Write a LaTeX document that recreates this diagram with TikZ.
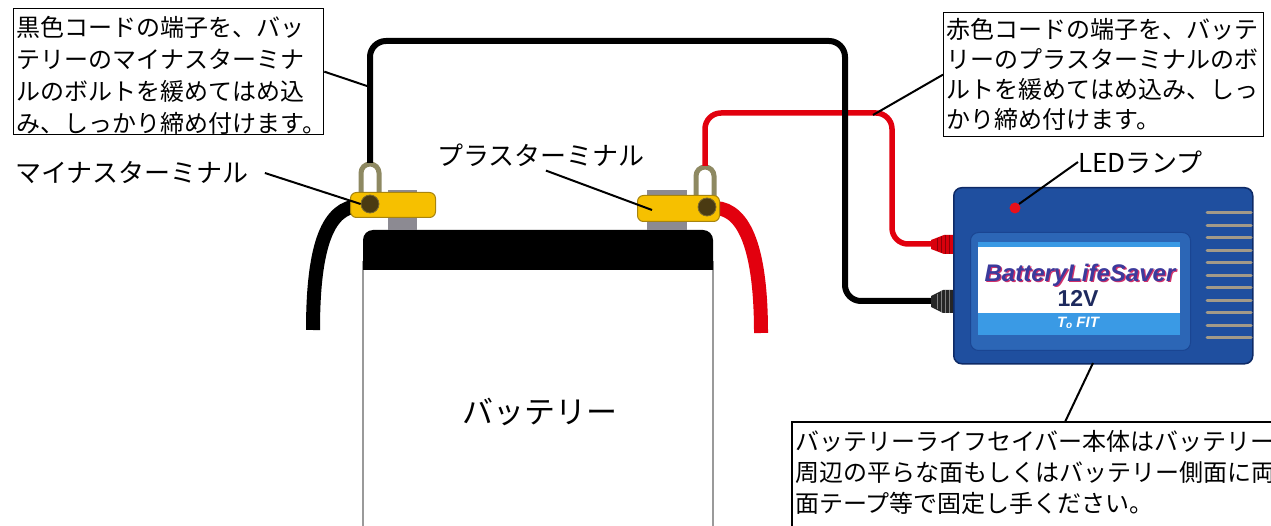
\documentclass[tikz,border=0pt]{standalone}
\usepackage{fontspec}
\setmainfont{Noto Sans CJK JP}
\newfontfamily\logofont{Liberation Sans}
\usetikzlibrary{calc}

\definecolor{wirered}{HTML}{E2000E}
\definecolor{plugred}{HTML}{D8000C}
\definecolor{ribred}{HTML}{8E0008}
\definecolor{postgray}{HTML}{8C8A92}
\definecolor{clampyellow}{HTML}{F6C000}
\definecolor{clampedge}{HTML}{A8840E}
\definecolor{boltbrown}{HTML}{4A3A12}
\definecolor{boltedge}{HTML}{7A6A30}
\definecolor{lugolive}{HTML}{8E8962}
\definecolor{bodyblue}{HTML}{1F4F9F}
\definecolor{bodyedge}{HTML}{0E2A66}
\definecolor{panelblue}{HTML}{2C66B6}
\definecolor{paneledge}{HTML}{1A4592}
\definecolor{bandblue}{HTML}{3A9AE5}
\definecolor{brandblue}{HTML}{3B3A9C}
\definecolor{brandshadow}{HTML}{D0306A}
\definecolor{voltnavy}{HTML}{1E2A5E}
\definecolor{ventgray}{HTML}{A39A88}
\definecolor{ledred}{HTML}{E8101A}
\definecolor{sidegray}{HTML}{9A9A9A}

\tikzset{
  notebox/.style={draw=black, line width=1.3pt, fill=white, align=left,
    inner xsep=3pt, inner ysep=0pt},
  plainlbl/.style={inner sep=0pt, font=\fontsize{26}{26}\selectfont},
  leader/.style={draw=black, line width=2pt},
  thinwire/.style={line width=#1, rounded corners=16pt},
  clamp/.style={draw=clampedge, fill=clampyellow, line width=1pt,
    rounded corners=6pt, inner sep=0pt},
  bolt/.style={circle, draw=boltedge, fill=boltbrown, line width=0.8pt,
    minimum size=18pt, inner sep=0pt},
  lug/.style={draw=lugolive, line width=5pt},
  vent/.style={draw=ventgray, line width=3pt, line cap=round},
}

\begin{document}
\begin{tikzpicture}[x=1pt,y=-1pt]
\useasboundingbox (0,0) rectangle (1271,526);
\clip (0,0) rectangle (1271,526);

% heavy battery leads
\draw[line width=14pt, black] (358,206) .. controls (330,208) and (313,240) .. (313,330);
\draw[line width=14pt, wirered] (716,208) .. controls (745,210) and (761,250) .. (761,333);

% battery case
\draw[draw=sidegray, fill=white, line width=1.2pt] (363,262) rectangle (713,560);
\fill[black, rounded corners=10pt] (363,270) -- (363,230) -- (713,230) -- (713,270);
\node[font=\fontsize{31}{31}\selectfont, inner sep=0pt] (battlbl) at (540,412) {バッテリー};

% terminal posts
\fill[postgray] (388,190) rectangle (417,230);
\fill[postgray] (647,190) rectangle (687,230);

% ring lugs
\draw[lug] (361,194) -- (361,173) arc[start angle=180, end angle=0, radius=9pt] -- (379,194);
\draw[lug] (696,197) -- (696,176) arc[start angle=180, end angle=0, radius=9pt] -- (714,197);
\coordinate (ltop) at (370,163);
\coordinate (rtop) at (705,166);

% terminal clamps and bolts
\node[clamp, minimum width=85pt, minimum height=25pt, anchor=north west] (lclamp) at (350,192) {};
\node[clamp, minimum width=82pt, minimum height=26pt, anchor=north west] (rclamp) at (637,195) {};
\node[bolt] (lbolt) at (370,204) {};
\node[bolt] (rbolt) at (707,207) {};
\coordinate (plustip) at (652,210);

% plug ends on the saver
\coordinate (redin) at (934,244);
\coordinate (blackin) at (934,301);

% thin leads to the saver
\draw[thinwire=5.5pt, wirered] (rtop) |- (892,113) |- (redin);
\draw[thinwire=6pt, black] (ltop) |- (845,41) |- (blackin);

% plugs
\fill[plugred] (931,240) -- (944,235) -- (955,235) -- (955,254) -- (944,254) -- (931,249) -- cycle;
\draw[ribred, line width=1pt] (937,238) -- (937,251) (941,236) -- (941,253) (945,235) -- (945,254) (949,235) -- (949,254);
\fill[black!85] (931,296) -- (943,290) -- (955,290) -- (955,313) -- (943,313) -- (931,307) -- cycle;
\draw[gray, line width=1pt] (937,294) -- (937,309) (941,291) -- (941,312) (945,290) -- (945,313) (949,290) -- (949,313);

% saver body
\node[draw=bodyedge, fill=bodyblue, line width=1.5pt, rounded corners=8pt,
      minimum width=299pt, minimum height=176pt, inner sep=0pt, anchor=north west] (saver) at (953,187) {};
\node[draw=paneledge, fill=panelblue, line width=1pt, rounded corners=8pt,
      minimum width=220pt, minimum height=118pt, inner sep=0pt, anchor=north west] (panel) at (970,232) {};
\fill[bandblue] (978,242) rectangle (1180,335);
\fill[white] (978,247) rectangle (1180,313);
\node[font=\logofont\bfseries\itshape\fontsize{24}{24}\selectfont, text=brandshadow, inner sep=0pt] at (1081.3,276.2) {BatteryLifeSaver};
\node[font=\logofont\bfseries\itshape\fontsize{24}{24}\selectfont, text=brandblue, inner sep=0pt] (brand) at (1080,275) {BatteryLifeSaver};
\node[font=\logofont\bfseries\fontsize{23}{23}\selectfont, text=voltnavy, inner sep=0pt] (volt) at (1078,298) {12V};
\node[font=\logofont\bfseries\itshape\fontsize{15}{15}\selectfont, text=white, inner sep=0pt] (maker) at (1078,323) {T\raisebox{-1pt}{\fontsize{10}{10}\selectfont o} FIT};
\foreach \i in {0,...,10}
  \draw[vent] (1207,{213+12.5*\i}) -- (1251,{213+12.5*\i});
\node[circle, fill=ledred, minimum size=11pt, inner sep=0pt] (lamp) at (1015,208) {};

% callout boxes
\node[notebox, font=\fontsize{24}{32}\selectfont, minimum width=310pt, minimum height=126pt,
      text width=304pt, anchor=north west] (lbox) at (13,8)
  {\rule{0pt}{27pt}黒色コードの端子を、バッ\\テリーのマイナスターミナ\\ルのボルトを緩めてはめ込\\み、しっかり締め付けます。};
\node[notebox, font=\fontsize{24}{30}\selectfont, minimum width=320pt, minimum height=124pt,
      text width=314pt, anchor=north west] (rbox) at (943,12)
  {赤色コードの端子を、バッテ\\リーのプラスターミナルのボ\\ルトを緩めてはめ込み、しっ\\かり締め付けます。};
\draw[line width=1.3pt, fill=white] (792,422) rectangle (1300,560);
\node[font=\fontsize{24}{31}\selectfont, align=left, inner xsep=3pt, inner ysep=8pt,
      text width=520pt, anchor=north west] (note) at (792,422)
  {バッテリーライフセイバー本体はバッテリー\\周辺の平らな面もしくはバッテリー側面に両\\面テープ等で固定し手ください。};

% plain labels
\node[plainlbl, anchor=west] (minus) at (15,173) {マイナスターミナル};
\node[plainlbl, anchor=west] (plus) at (437,155) {プラスターミナル};
\node[plainlbl, anchor=west] (ledlbl) at (1078,162) {LEDランプ};

% leader lines
\coordinate (lwirept) at (367,86);
\coordinate (rwirept) at (873,115);
\coordinate (savertip) at (1093,363);
\coordinate (notetip) at (1065,422);
\draw[leader] (lbox.east) -- (lwirept);
\draw[leader] (rbox.west) -- (rwirept);
\draw[leader] ([xshift=16pt]minus.east) -- (lbolt.west);
\draw[leader] ([xshift=5pt,yshift=-4pt]plus.south) -- (plustip);
\draw[leader] (ledlbl.west) -- (lamp.north east);
\draw[leader] (savertip) -- (notetip);
\end{tikzpicture}
\end{document}
